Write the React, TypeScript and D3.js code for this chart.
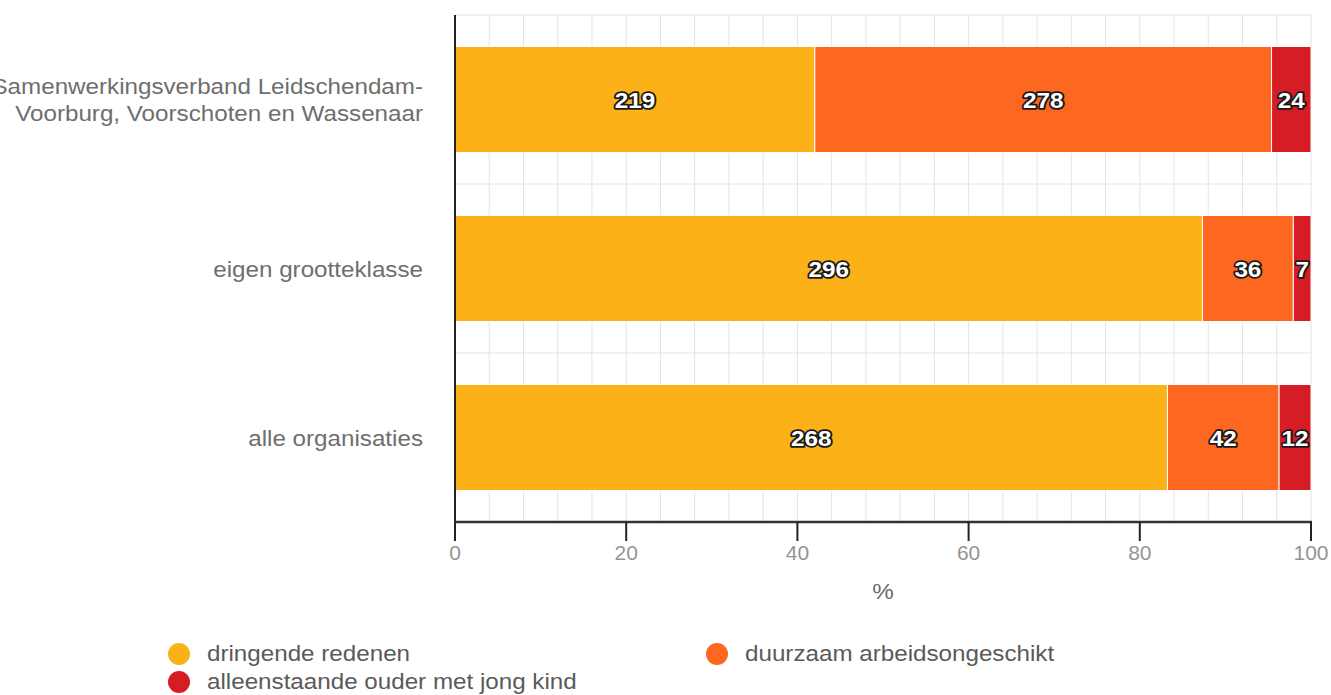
import React from "react";
import * as d3 from "d3";

const categories = ["Samenwerkingsverband Leidschendam-Voorburg, Voorschoten en Wassenaar", "eigen grootteklasse", "alle organisaties"];
const categoryLines = [["Samenwerkingsverband Leidschendam-", "Voorburg, Voorschoten en Wassenaar"], ["eigen grootteklasse"], ["alle organisaties"]];
const seriesNames = ["dringende redenen", "duurzaam arbeidsongeschikt", "alleenstaande ouder met jong kind"];
const dringendeRedenen = [219, 296, 268];
const duurzaamArbeidsongeschikt = [278, 36, 42];
const alleenstaandeOuder = [24, 7, 12];
const xTicks = [0, 20, 40, 60, 80, 100];
const colors = ["#fbb117", "#fd6720", "#d61c24"];

const W = 1331;
const H = 695;
const FONT = "'Liberation Sans', Arial, Helvetica, sans-serif";

function T({ x, y, anchor = "start", size = 22, fill = "#666", weight = "normal", children, outline = false, sx = 1.1 }: any) {
  return (
    <text
      transform={`translate(${x},${y}) scale(${sx},1)`}
      textAnchor={anchor}
      fontFamily={FONT}
      fontSize={size}
      fontWeight={weight}
      fill={fill}
      stroke={outline ? "#1a1a1a" : undefined}
      strokeWidth={outline ? 3.5 : undefined}
      strokeLinejoin="round"
      paintOrder="stroke"
    >
      {children}
    </text>
  );
}

export default function App() {
  const left = 455, right = 1311, top = 15, bottom = 522;
  const x = d3.scaleLinear().domain([0, 100]).range([left, right]);
  const y = d3.scaleBand<string>().domain(categories).range([top, bottom]).paddingInner(0.3728).paddingOuter(0.1864);
  const step = y.step();

  const rows = categories.map((c, i) => ({
    cat: c,
    s0: dringendeRedenen[i],
    s1: duurzaamArbeidsongeschikt[i],
    s2: alleenstaandeOuder[i],
  }));
  const stack = d3.stack<any>().keys(["s0", "s1", "s2"]).offset(d3.stackOffsetExpand);
  const layers = stack(rows);

  const minorTicks = d3.range(0, 101, 4);
  const bandEdges = categories.map((c) => (y(c) as number) - y.paddingOuter() * step);

  return (
    <svg width={W} height={H} style={{ position: "absolute", left: 0, top: 0, display: "block", background: "#fff" }}>
      {/* grid */}
      {minorTicks.map((t) => (
        <line key={"v" + t} x1={x(t)} x2={x(t)} y1={top} y2={bottom} stroke="#e4e4e4" strokeWidth={1} />
      ))}
      {bandEdges.map((e, i) => (
        <line key={"h" + i} x1={left} x2={right} y1={e} y2={e} stroke="#e4e4e4" strokeWidth={1} />
      ))}

      {/* bars */}
      {layers.map((layer, li) =>
        layer.map((d: any, i: number) => {
          const x0 = x(d[0] * 100);
          const x1 = x(d[1] * 100);
          const yy = y(categories[i]) as number;
          return (
            <rect key={li + "-" + i} x={x0} y={yy} width={x1 - x0} height={y.bandwidth()} fill={colors[li]} stroke="#fff" strokeWidth={1} />
          );
        })
      )}
      {layers.map((layer, li) =>
        layer.map((d: any, i: number) => {
          const cx = (x(d[0] * 100) + x(d[1] * 100)) / 2;
          const cy = (y(categories[i]) as number) + y.bandwidth() / 2;
          const v = (d.data as any)["s" + li];
          return (
            <T key={"l" + li + "-" + i} x={cx} y={cy + 8} anchor="middle" size={22} weight="bold" fill="#fff" outline>
              {v}
            </T>
          );
        })
      )}

      {/* axes */}
      <line x1={left} x2={left} y1={top} y2={bottom + 1} stroke="#222" strokeWidth={2} />
      <line x1={left - 1} x2={right + 1} y1={bottom} y2={bottom} stroke="#333" strokeWidth={2.5} />
      {xTicks.map((t) => (
        <g key={"t" + t}>
          <line x1={x(t)} x2={x(t)} y1={bottom} y2={bottom + 19} stroke="#222" strokeWidth={2} />
          <T x={x(t)} y={560} anchor="middle" size={21} fill="#949494" sx={1}>{t}</T>
        </g>
      ))}
      <T x={(left + right) / 2} y={599} anchor="middle" size={22} fill="#6a6a6a">%</T>

      {/* category labels */}
      {categoryLines.map((lines, i) => {
        const cy = (y(categories[i]) as number) + y.bandwidth() / 2;
        return lines.map((ln, j) => (
          <T key={"c" + i + j} x={423} y={cy - ((lines.length - 1) * 27) / 2 + j * 27 + 8} anchor="end" size={22} fill="#6e6e6e">
            {ln}
          </T>
        ));
      })}

      {/* legend */}
      {[
        { cx: 179, cy: 654, i: 0 },
        { cx: 717, cy: 654, i: 1 },
        { cx: 179, cy: 682, i: 2 },
      ].map((l) => (
        <g key={"lg" + l.i}>
          <circle cx={l.cx} cy={l.cy} r={11} fill={colors[l.i]} />
          <T x={l.cx + 28} y={l.cy + 7} size={22} fill="#5a5a5a">{seriesNames[l.i]}</T>
        </g>
      ))}
    </svg>
  );
}
